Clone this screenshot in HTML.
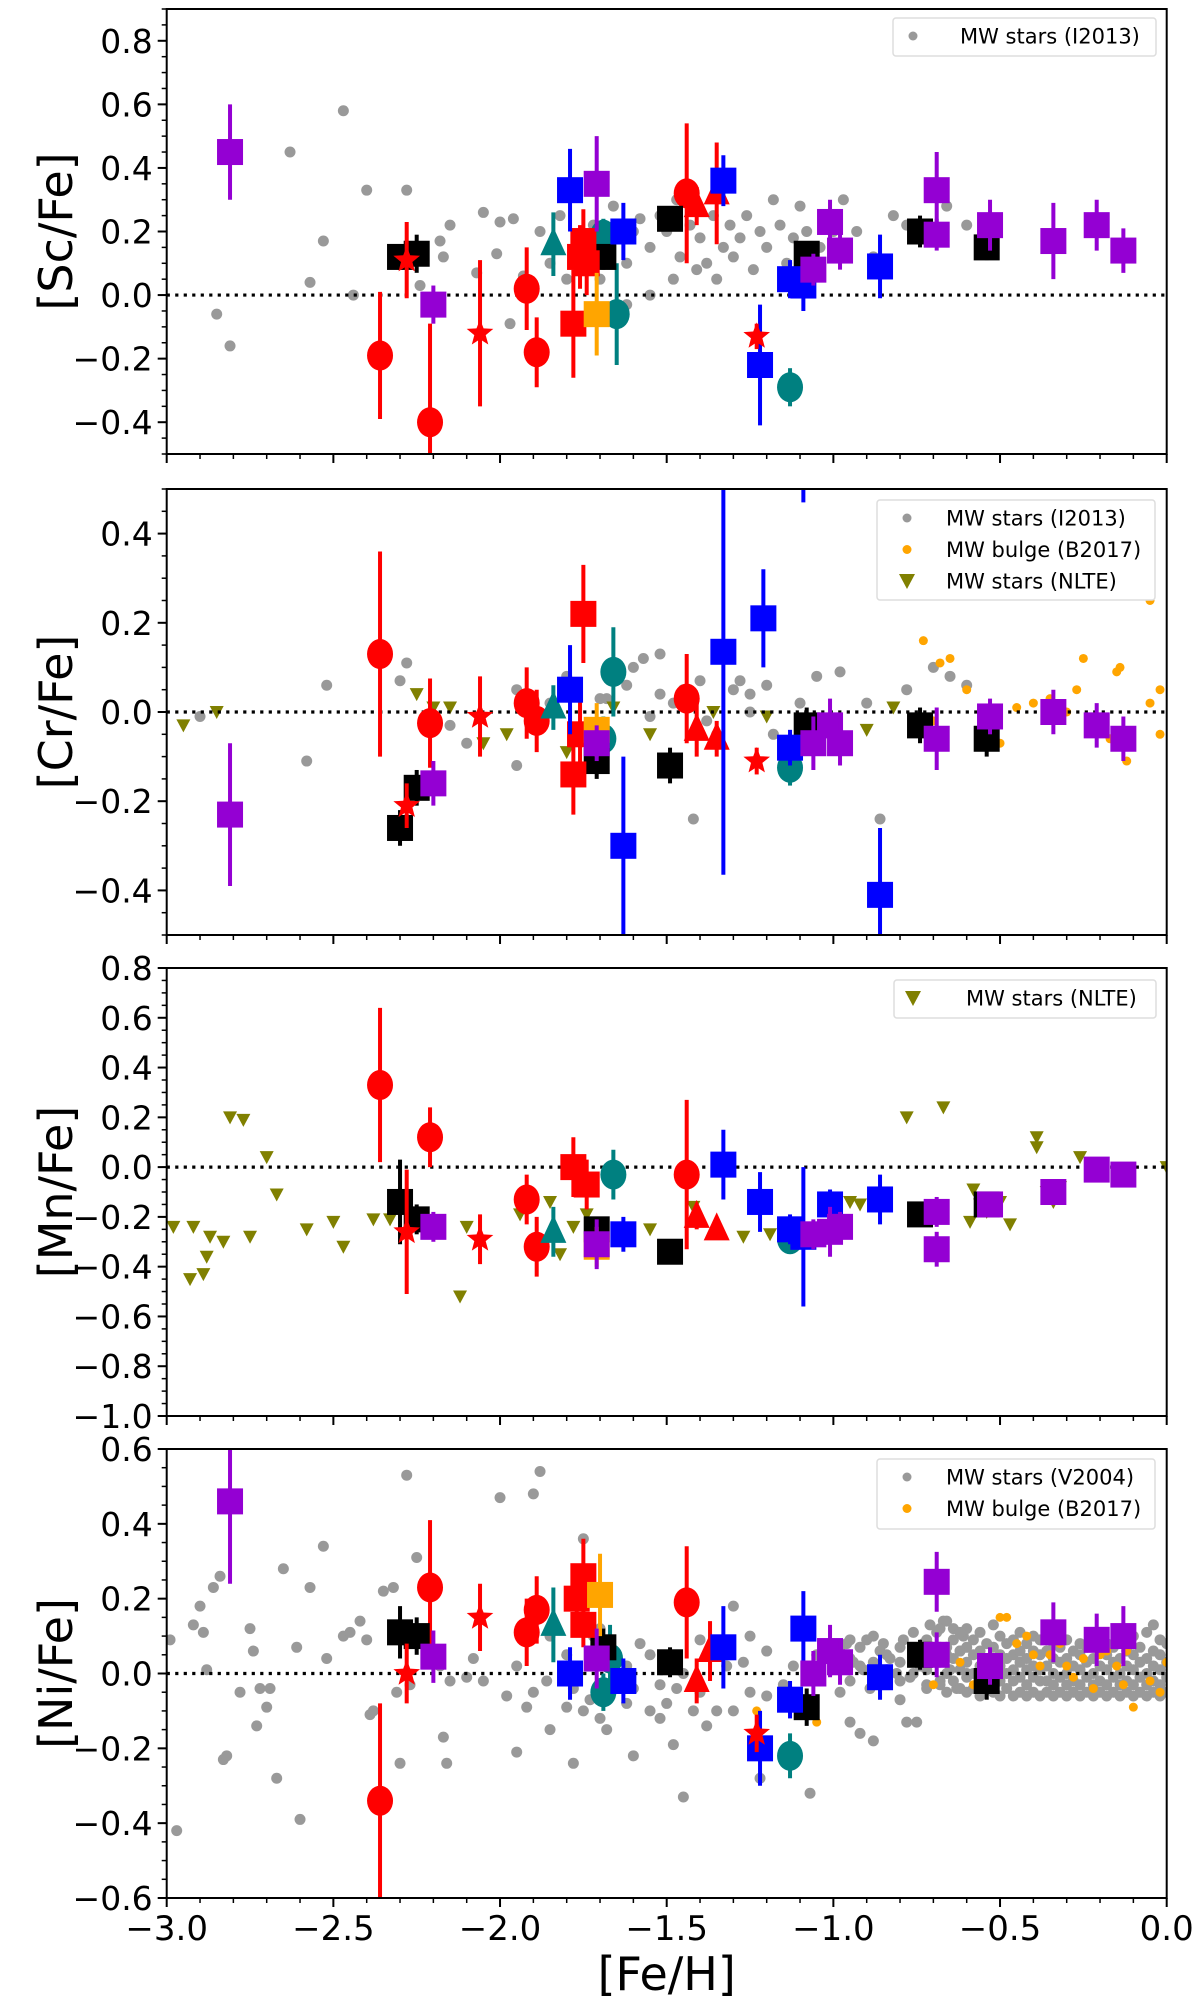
<!DOCTYPE html>
<html><head><meta charset="utf-8">
<style>
html,body{margin:0;padding:0;background:#fff;}
svg{display:block;font-family:"DejaVu Sans","Liberation Sans",sans-serif;}
</style></head>
<body>
<svg id="fig" width="1200" height="2005" viewBox="0 0 1200 2005" xmlns="http://www.w3.org/2000/svg"></svg>
<script>
// ---------- data ----------
const xTicks = [-3.0,-2.5,-2.0,-1.5,-1.0,-0.5,0.0];
const xTickLabels = ["\u22123.0","\u22122.5","\u22122.0","\u22121.5","\u22121.0","\u22120.5","0.0"];
const scTicks = [-0.4,-0.2,0.0,0.2,0.4,0.6,0.8];
const crTicks = [-0.4,-0.2,0.0,0.2,0.4];
const mnTicks = [-1.0,-0.8,-0.6,-0.4,-0.2,0.0,0.2,0.4,0.6,0.8];
const niTicks = [-0.6,-0.4,-0.2,0.0,0.2,0.4,0.6];

// [FeH, value, err]
const scPurple = [[-2.81,0.45,0.15],[-2.20,-0.03,0.06],[-1.71,0.35,0.15],[-1.06,0.08,0.05],[-1.01,0.23,0.07],[-0.98,0.14,0.06],[-0.69,0.33,0.12],[-0.69,0.19,0.05],[-0.53,0.22,0.08],[-0.34,0.17,0.12],[-0.21,0.22,0.08],[-0.13,0.14,0.07]];
const scBlue = [[-1.79,0.33,0.13],[-1.63,0.20,0.09],[-1.33,0.36,0.08],[-1.22,-0.22,0.19],[-1.13,0.05,0.06],[-1.09,0.03,0.08],[-0.86,0.09,0.1]];
const scBlack = [[-2.30,0.12,0.04],[-2.25,0.13,0.06],[-1.69,0.12,0.04],[-1.49,0.24,0.03],[-1.08,0.13,0.03],[-0.74,0.20,0.05],[-0.54,0.15,0.04]];
const scRedSq = [[-1.78,-0.09,0.17],[-1.75,0.17,0.1],[-1.76,0.12,0.1],[-1.74,0.10,0.1]];
const scRedCirc = [[-2.36,-0.19,0.2],[-2.21,-0.40,0.31],[-1.92,0.02,0.13],[-1.89,-0.18,0.11],[-1.44,0.32,0.22]];
const scRedStar = [[-2.28,0.11,0.12],[-2.06,-0.12,0.23],[-1.23,-0.13,0.04]];
const scRedTri = [[-1.41,0.28,0.06],[-1.35,0.32,0.16]];
const scTealCirc = [[-1.69,0.19,0.05],[-1.65,-0.06,0.16],[-1.13,-0.29,0.06]];
const scTealTri = [[-1.84,0.16,0.1]];
const scOrange = [[-1.71,-0.06,0.13]];
const scGray = [[-2.85,-0.06],[-2.81,-0.16],[-2.63,0.45],[-2.47,0.58],[-2.57,0.04],[-2.53,0.17],[-2.44,0.0],[-2.40,0.33],[-2.28,0.33],[-2.24,0.03],[-2.17,0.12],[-2.18,0.17],[-2.15,0.22],[-2.05,0.26],[-2.07,0.07],[-2.0,0.23],[-2.01,0.13],[-1.97,-0.09],[-1.96,0.24],[-1.93,0.06],[-1.88,0.20],[-1.85,0.10],[-1.82,0.25],[-1.80,0.05],[-1.72,0.22],[-1.68,0.18],[-1.66,0.28],[-1.62,0.10],[-1.60,0.20],[-1.58,0.24],[-1.55,0.15],[-1.52,0.25],[-1.50,0.20],[-1.47,0.30],[-1.46,0.12],[-1.43,0.22],[-1.41,0.08],[-1.40,0.18],[-1.38,0.10],[-1.36,0.25],[-1.35,0.05],[-1.33,0.15],[-1.31,0.22],[-1.30,0.12],[-1.28,0.18],[-1.26,0.25],[-1.24,0.08],[-1.22,0.20],[-1.20,0.15],[-1.18,0.30],[-1.16,0.22],[-1.14,0.10],[-1.12,0.18],[-1.10,0.28],[-1.08,0.20],[-1.04,0.15],[-1.02,0.25],[-1.0,0.20],[-0.97,0.30],[-0.93,0.20],[-0.88,0.12],[-0.82,0.25],[-0.78,0.22],[-0.72,0.22],[-0.66,0.28],[-0.60,0.22],[-0.55,0.20],[-1.62,-0.03],[-1.55,0.0],[-1.48,0.05],[-1.70,0.05]];

const crPurple = [[-2.81,-0.23,0.16],[-2.20,-0.16,0.05],[-1.71,-0.07,0.04],[-1.06,-0.07,0.06],[-1.01,-0.03,0.06],[-0.98,-0.07,0.05],[-0.69,-0.06,0.07],[-0.53,-0.01,0.04],[-0.34,0.0,0.05],[-0.21,-0.03,0.05],[-0.13,-0.06,0.05]];
const crBlue = [[-1.79,0.05,0.1],[-1.63,-0.30,0.2],[-1.33,0.135,0.5],[-1.21,0.21,0.11],[-1.13,-0.08,0.04],[-0.86,-0.41,0.15],[-1.09,0.62,0.15]];
const crBlack = [[-2.30,-0.26,0.04],[-2.25,-0.17,0.04],[-1.71,-0.11,0.04],[-1.49,-0.12,0.04],[-1.08,-0.03,0.04],[-0.74,-0.03,0.04],[-0.54,-0.06,0.04]];
const crRedSq = [[-1.78,-0.14,0.09],[-1.75,0.22,0.11],[-1.76,-0.05,0.09]];
const crRedCirc = [[-2.36,0.13,0.23],[-2.21,-0.025,0.1],[-1.92,0.02,0.08],[-1.89,-0.02,0.07],[-1.44,0.03,0.1]];
const crRedStar = [[-2.28,-0.21,0.05],[-2.06,-0.01,0.09],[-1.23,-0.11,0.03]];
const crRedTri = [[-1.41,-0.04,0.06],[-1.35,-0.06,0.04]];
const crTealCirc = [[-1.69,-0.06,0.05],[-1.66,0.09,0.1],[-1.13,-0.125,0.04]];
const crTealTri = [[-1.84,0.01,0.05]];
const crOrange = [[-1.71,-0.04,0.06]];
const crGray = [[-2.90,-0.01],[-2.58,-0.11],[-2.52,0.06],[-2.28,0.11],[-2.30,0.07],[-2.15,-0.03],[-2.10,-0.07],[-1.95,-0.12],[-1.80,0.08],[-1.70,0.03],[-1.62,0.06],[-1.60,0.10],[-1.52,0.04],[-1.48,0.02],[-1.42,-0.24],[-1.38,-0.02],[-1.30,0.05],[-1.25,0.0],[-1.18,-0.05],[-1.10,0.02],[-1.05,0.08],[-0.98,0.09],[-0.90,0.02],[-0.86,-0.24],[-0.78,0.05],[-0.70,0.10],[-0.65,0.08],[-0.60,0.06],[-1.68,0.03],[-1.55,-0.01],[-1.45,0.05],[-1.35,-0.05],[-1.25,0.04],[-1.95,0.05],[-1.85,0.02],[-1.57,0.12],[-1.52,0.13],[-1.40,0.07],[-1.28,0.07],[-1.20,0.06]];
const crBulge = [[-0.73,0.16],[-0.68,0.11],[-0.65,0.12],[-0.60,0.05],[-0.55,-0.03],[-0.45,0.01],[-0.40,0.02],[-0.30,0.0],[-0.27,0.05],[-0.25,0.12],[-0.20,-0.02],[-0.15,0.09],[-0.14,0.10],[-0.12,-0.11],[-0.05,0.25],[-0.05,0.02],[-0.02,0.05],[-0.02,-0.05],[-0.35,0.03],[-0.50,-0.07],[-0.70,-0.02],[-0.17,-0.06],[-1.35,-0.05]];
const crNlte = [[-2.95,-0.03],[-2.85,0.0],[-2.25,0.04],[-2.20,0.01],[-2.15,0.01],[-2.05,-0.07],[-1.98,-0.05],[-1.88,-0.03],[-1.80,-0.09],[-1.66,0.01],[-1.55,-0.05],[-1.36,0.0],[-0.82,0.01],[-0.75,-0.02],[-0.90,-0.04],[-1.20,-0.01]];

const mnPurple = [[-2.20,-0.24,0.06],[-1.71,-0.31,0.1],[-1.06,-0.27,0.06],[-1.01,-0.26,0.1],[-0.98,-0.24,0.06],[-0.69,-0.18,0.06],[-0.69,-0.33,0.07],[-0.53,-0.15,0.05],[-0.34,-0.10,0.05],[-0.21,-0.01,0.04],[-0.13,-0.03,0.04]];
const mnBlue = [[-1.63,-0.27,0.07],[-1.33,0.01,0.14],[-1.22,-0.14,0.12],[-1.13,-0.25,0.06],[-1.09,-0.28,0.28],[-1.01,-0.15,0.06],[-0.86,-0.13,0.1]];
const mnBlack = [[-2.30,-0.14,0.17],[-2.25,-0.21,0.06],[-1.71,-0.25,0.05],[-1.49,-0.34,0.04],[-0.74,-0.19,0.05],[-0.54,-0.15,0.04]];
const mnRedSq = [[-1.78,0.0,0.12],[-1.74,-0.07,0.1]];
const mnRedCirc = [[-2.36,0.33,0.31],[-2.21,0.12,0.12],[-1.92,-0.13,0.1],[-1.89,-0.32,0.12],[-1.44,-0.03,0.3]];
const mnRedStar = [[-2.28,-0.26,0.25],[-2.06,-0.29,0.1]];
const mnRedTri = [[-1.41,-0.20,0.05],[-1.35,-0.25,0.04]];
const mnTealCirc = [[-1.66,-0.03,0.1],[-1.13,-0.29,0.04]];
const mnTealTri = [[-1.84,-0.26,0.1]];
const mnOrange = [[-1.71,-0.32,0.08]];
const mnNlte = [[-2.98,-0.24],[-2.92,-0.24],[-2.93,-0.45],[-2.89,-0.43],[-2.88,-0.36],[-2.87,-0.28],[-2.83,-0.30],[-2.81,0.20],[-2.77,0.19],[-2.75,-0.28],[-2.70,0.04],[-2.67,-0.11],[-2.58,-0.25],[-2.50,-0.22],[-2.47,-0.32],[-2.38,-0.21],[-2.33,-0.21],[-2.12,-0.52],[-2.10,-0.24],[-1.94,-0.19],[-1.92,-0.16],[-1.85,-0.14],[-1.82,-0.35],[-1.78,-0.24],[-1.74,-0.19],[-1.55,-0.25],[-1.42,-0.16],[-1.27,-0.28],[-1.19,-0.27],[-1.10,-0.25],[-0.95,-0.14],[-0.92,-0.15],[-0.78,0.20],[-0.67,0.24],[-0.59,-0.22],[-0.58,-0.09],[-0.56,-0.15],[-0.54,-0.18],[-0.50,-0.14],[-0.47,-0.23],[-0.39,0.12],[-0.39,0.08],[-0.36,-0.10],[-0.34,-0.14],[-0.32,-0.08],[-0.26,0.04],[0.0,0.0]];

const niPurple = [[-2.81,0.46,0.22],[-2.20,0.045,0.07],[-1.71,0.04,0.08],[-1.06,0.0,0.06],[-1.01,0.06,0.07],[-0.98,0.03,0.06],[-0.69,0.245,0.08],[-0.69,0.05,0.06],[-0.53,0.02,0.05],[-0.34,0.11,0.08],[-0.21,0.09,0.07],[-0.13,0.10,0.08]];
const niBlue = [[-1.79,0.0,0.07],[-1.63,-0.02,0.06],[-1.33,0.07,0.11],[-1.22,-0.20,0.1],[-1.13,-0.07,0.05],[-1.09,0.12,0.1],[-0.86,-0.01,0.06]];
const niBlack = [[-2.30,0.11,0.07],[-2.25,0.10,0.05],[-1.69,0.07,0.05],[-1.49,0.03,0.04],[-1.08,-0.09,0.05],[-0.74,0.05,0.04],[-0.54,-0.02,0.05]];
const niRedSq = [[-1.77,0.20,0.06],[-1.75,0.26,0.1],[-1.75,0.13,0.06]];
const niRedCirc = [[-2.36,-0.34,0.26],[-2.21,0.23,0.18],[-1.92,0.11,0.09],[-1.89,0.17,0.09],[-1.44,0.19,0.15]];
const niRedStar = [[-2.28,0.0,0.08],[-2.06,0.15,0.09],[-1.23,-0.16,0.05]];
const niRedTri = [[-1.41,-0.02,0.06],[-1.37,0.06,0.08]];
const niTealCirc = [[-1.69,-0.05,0.05],[-1.67,0.04,0.09],[-1.13,-0.22,0.06]];
const niTealTri = [[-1.84,0.13,0.1]];
const niOrange = [[-1.70,0.21,0.11]];
const niGray = [[-2.99,0.09],[-2.97,-0.42],[-2.92,0.13],[-2.90,0.18],[-2.89,0.11],[-2.88,0.01],[-2.86,0.23],[-2.84,0.26],[-2.83,-0.23],[-2.82,-0.22],[-2.78,-0.05],[-2.75,0.12],[-2.74,0.06],[-2.73,-0.14],[-2.72,-0.04],[-2.70,-0.09],[-2.69,-0.04],[-2.67,-0.28],[-2.65,0.28],[-2.61,0.07],[-2.60,-0.39],[-2.57,0.23],[-2.52,0.04],[-2.53,0.34],[-2.47,0.10],[-2.45,0.11],[-2.42,0.14],[-2.40,0.09],[-2.39,-0.11],[-2.38,-0.10],[-2.35,0.22],[-2.32,0.23],[-2.31,-0.05],[-2.30,-0.24],[-2.28,0.53],[-2.27,-0.03],[-2.25,0.31],[-2.20,0.06],[-2.18,0.02],[-2.17,-0.17],[-2.16,-0.24],[-2.15,-0.02],[-2.10,-0.01],[-2.08,0.04],[-2.05,-0.02],[-2.00,0.47],[-1.95,0.02],[-1.95,-0.21],[-1.90,0.48],[-1.88,0.54],[-1.85,0.10],[-1.80,-0.09],[-1.78,-0.24],[-1.75,0.36],[-1.72,0.10],[-1.70,-0.12],[-1.65,0.05],[-1.62,-0.08],[-1.60,-0.22],[-1.55,-0.10],[-1.52,-0.12],[-1.48,-0.19],[-1.45,-0.33],[-1.42,-0.10],[-1.40,0.09],[-1.38,-0.14],[-1.35,0.05],[-1.30,-0.10],[-1.27,0.03],[-1.25,-0.05],[-1.22,-0.28],[-1.20,0.06],[-1.15,-0.03],[-1.10,-0.10],[-1.07,-0.32],[-1.05,0.05],[-1.00,0.08],[-0.98,-0.05],[-0.95,-0.13],[-0.92,-0.16],[-0.90,0.09],[-0.88,-0.18],[-0.85,0.08],[-0.80,-0.07],[-0.78,-0.13],[-0.75,-0.13],[-1.90,-0.05],[-1.85,-0.15],[-1.80,0.05],[-1.75,-0.10],[-1.70,0.12],[-1.68,-0.15],[-1.60,-0.04],[-1.55,0.05],[-1.50,-0.08],[-1.45,0.0],[-1.40,-0.05],[-1.35,-0.10],[-1.30,0.18],[-1.25,0.10],[-1.20,-0.06],[-1.15,-0.08],[-1.98,-0.06],[-1.92,-0.09],[-1.86,-0.02],[-1.78,-0.04],[-1.73,-0.07],[-1.62,0.02],[-1.58,0.08],[-1.52,-0.03],[-1.47,-0.04],[-1.32,0.02],[-1.12,0.02],[-1.04,-0.02],[-1.02,0.05],[-0.96,0.08],[-0.94,0.03],[-0.91,0.01],[-0.89,-0.04],[-0.86,0.06],[-0.83,0.04],[-0.81,0.00],[-0.79,0.09],[-0.77,-0.01],[-0.76,0.05],[-0.74,0.02],[-0.73,0.08],[-0.72,-0.03],[-0.71,0.13],[-0.70,0.04],[-0.69,0.11],[-0.68,-0.02],[-0.67,0.14],[-0.66,0.07],[-0.65,0.01],[-0.64,0.12],[-0.63,-0.04],[-0.62,0.06],[-0.61,0.10],[-0.60,0.00]];
// dense V2004 band: [FeH, NiFe values...]
const niBandRows = [
[-0.60,-0.05,-0.01,0.03,0.07,0.12],[-0.58,-0.04,0.00,0.05,0.09],[-0.56,-0.06,-0.02,0.02,0.06,0.11],[-0.54,-0.03,0.01,0.04,0.08],
[-0.52,-0.05,-0.01,0.03,0.07,0.13],[-0.50,-0.06,-0.02,0.02,0.05,0.10],[-0.48,-0.04,0.00,0.04,0.08],[-0.46,-0.06,-0.02,0.01,0.05,0.09],
[-0.44,-0.05,-0.01,0.03,0.06,0.11],[-0.42,-0.06,-0.03,0.01,0.04,0.08],[-0.40,-0.05,-0.01,0.02,0.06,0.10],[-0.38,-0.06,-0.02,0.01,0.05,0.09],
[-0.36,-0.05,-0.02,0.02,0.06],[-0.34,-0.06,-0.03,0.00,0.04,0.08],[-0.32,-0.05,-0.01,0.03,0.07],[-0.30,-0.06,-0.03,0.00,0.04,0.09],
[-0.28,-0.05,-0.02,0.02,0.06],[-0.26,-0.06,-0.03,0.01,0.05,0.08],[-0.24,-0.05,-0.01,0.03,0.07],[-0.22,-0.06,-0.03,0.00,0.04,0.10],
[-0.20,-0.05,-0.02,0.02,0.06],[-0.18,-0.06,-0.03,0.01,0.05,0.08],[-0.16,-0.05,-0.01,0.03,0.07],[-0.14,-0.06,-0.03,0.00,0.04,0.09],
[-0.12,-0.05,-0.02,0.02,0.06],[-0.10,-0.06,-0.03,0.01,0.05,0.10],[-0.08,-0.05,-0.01,0.03,0.07],[-0.06,-0.06,-0.03,0.00,0.04,0.11],
[-0.04,-0.05,-0.02,0.02,0.06,0.13],[-0.02,-0.06,-0.03,0.01,0.05,0.09],[0.00,-0.05,-0.01,0.03,0.08],
[-0.98,0.01,0.06],[-0.95,-0.02,0.04,0.09],[-0.92,0.02,0.07],[-0.88,-0.03,0.03,0.10],[-0.84,0.01,0.05],[-0.80,-0.02,0.03,0.07],
[-0.76,0.00,0.06,0.11],[-0.72,-0.04,0.01,0.09],[-0.68,-0.03,0.03,0.07,0.12],[-0.66,-0.05,0.00,0.05,0.14],[-0.64,-0.02,0.04,0.09],[-0.62,-0.04,0.01,0.06,0.11]];
const niBulge = [[-1.23,-0.10],[-1.05,-0.13],[-0.70,-0.03],[-0.62,0.03],[-0.58,-0.03],[-0.50,0.15],[-0.48,0.15],[-0.45,0.08],[-0.42,0.10],[-0.40,0.05],[-0.38,0.02],[-0.35,0.05],[-0.30,0.02],[-0.28,-0.01],[-0.25,0.04],[-0.20,0.05],[-0.18,0.06],[-0.15,0.02],[-0.13,-0.03],[-0.12,0.06],[-0.10,-0.09],[-0.05,-0.02],[-0.02,-0.05],[0.0,0.03],[-0.22,-0.04],[-0.32,0.08],[-0.55,0.01]];

// ---------- layout ----------
const NS = "http://www.w3.org/2000/svg";
const svg = document.getElementById('fig');
const XL = 166.7, XR = 1166.7;
const xMin = -3, xMax = 0;
function sx(v){ return XL + (v - xMin) / (xMax - xMin) * (XR - XL); }
function mk(tag, attrs, parent){
  const e = document.createElementNS(NS, tag);
  for (const k in attrs) e.setAttribute(k, attrs[k]);
  (parent || svg).appendChild(e);
  return e;
}
const C = {purple:"#9400d3", blue:"#0000ff", black:"#000000", red:"#ff0000", teal:"#008080", orange:"#ffa500", gray:"#999999", olive:"#808000"};

const niGrayAll = niGray.slice();
niBandRows.forEach(r => { for (let i = 1; i < r.length; i++) niGrayAll.push([r[0], r[i]]); });

function drawPanel(p){
  const g = mk('g', {});
  
  
  const sy = v => p.bot - (v - p.ymin) / (p.ymax - p.ymin) * (p.bot - p.top);
  const clipId = 'clip-' + p.name;
  const cp = mk('clipPath', {id: clipId}, g);
  mk('rect', {x: XL, y: p.top, width: XR - XL, height: p.bot - p.top}, cp);
  const plot = mk('g', {'clip-path': 'url(#' + clipId + ')'}, g);

  function dots(arr, color, r, nm){
    arr.forEach(d => {
      const c = mk('circle', {cx: sx(d[0]), cy: sy(d[1]), r: r, fill: color}, plot);
      
      
    });
  }
  function tdown(arr, nm){
    arr.forEach(d => {
      const x = sx(d[0]), y = sy(d[1]);
      const t = mk('polygon', {points: (x-7)+','+(y-6)+' '+(x+7)+','+(y-6)+' '+x+','+(y+7), fill: C.olive}, plot);
      
      
    });
  }
  if (p.gray) dots(p.gray, C.gray, 5.5, 'mw-star-point');
  if (p.bulge) dots(p.bulge, C.orange, 4.5, 'mw-bulge-point');
  if (p.nlte) tdown(p.nlte, 'mw-nlte-point');

  const zl = mk('line', {x1: XL, x2: XR, y1: sy(0), y2: sy(0), stroke: '#000', 'stroke-width': 3.2, 'stroke-dasharray': '3.2,5.3'}, plot);
  
  

  function series(arr, color, shape, nm){
    arr.forEach(d => {
      const x = sx(d[0]), y = sy(d[1]);
      const eb = mk('line', {x1: x, x2: x, y1: sy(d[1] - d[2]), y2: sy(d[1] + d[2]), stroke: color, 'stroke-width': 4}, plot);
      
      
      let m;
      if (shape === 'sq') m = mk('rect', {x: x-13, y: y-13, width: 26, height: 26, fill: color}, plot);
      else if (shape === 'circ') m = mk('ellipse', {cx: x, cy: y, rx: 13, ry: 15, fill: color}, plot);
      else if (shape === 'tri') m = mk('polygon', {points: x+','+(y-17)+' '+(x-13)+','+(y+11)+' '+(x+13)+','+(y+11), fill: color}, plot);
      else {
        let pts = [];
        for (let i = 0; i < 10; i++){
          const a = -Math.PI/2 + i*Math.PI/5, r = i%2 ? 6 : 14;
          pts.push((x + r*Math.cos(a)).toFixed(1) + ',' + (y + r*Math.sin(a)).toFixed(1));
        }
        m = mk('polygon', {points: pts.join(' '), fill: color}, plot);
      }
      
      
    });
  }
  const S = p.series;
  series(S.redCirc, C.red, 'circ', 'red-circle-point');
  series(S.tealCirc, C.teal, 'circ', 'teal-circle-point');
  series(S.tealTri, C.teal, 'tri', 'teal-triangle-point');
  series(S.redTri, C.red, 'tri', 'red-triangle-point');
  series(S.black, C.black, 'sq', 'black-square-point');
  series(S.redSq, C.red, 'sq', 'red-square-point');
  series(S.orange, C.orange, 'sq', 'orange-square-point');
  series(S.blue, C.blue, 'sq', 'blue-square-point');
  series(S.purple, C.purple, 'sq', 'purple-square-point');
  series(S.redStar, C.red, 'star', 'red-star-point');

  const fr = mk('rect', {x: XL, y: p.top, width: XR - XL, height: p.bot - p.top, fill: 'none', stroke: '#000', 'stroke-width': 2}, g);
  
  

  const ay = mk('g', {}, g);
  
  
  for (let v = Math.ceil(p.ymin/0.05 - 1e-6)*0.05; v <= p.ymax + 1e-6; v += 0.05){
    mk('line', {x1: XL-5, x2: XL, y1: sy(v), y2: sy(v), stroke: '#000', 'stroke-width': 1.5}, ay);
  }
  p.ticks.forEach(v => {
    mk('line', {x1: XL-9, x2: XL, y1: sy(v), y2: sy(v), stroke: '#000', 'stroke-width': 2}, ay);
    const t = mk('text', {x: XL-14, y: sy(v)+12, 'text-anchor': 'end', 'font-size': 33}, ay);
    t.textContent = (v < 0 ? '\u2212' : '') + Math.abs(v).toFixed(1);
    
    
  });
  const yc = (p.top + p.bot)/2;
  const yt = mk('text', {x: 0, y: 0, transform: 'translate(72,' + yc + ') rotate(-90)', 'text-anchor': 'middle', 'font-size': 46}, g);
  yt.textContent = p.label;
  
  

  const ax = mk('g', {}, g);
  
  
  for (let i = 0; i <= 30; i++){
    const v = -3 + i*0.1;
    const major = i % 5 === 0;
    mk('line', {x1: sx(v), x2: sx(v), y1: p.bot, y2: p.bot + (major ? 9 : 5), stroke: '#000', 'stroke-width': major ? 2 : 1.5}, ax);
  }
  if (p.xlabels){
    xTicks.forEach((v, i) => {
      const t = mk('text', {x: sx(v), y: p.bot + 42, 'text-anchor': 'middle', 'font-size': 34}, ax);
      t.textContent = xTickLabels[i];
      
      
    });
  }

  const L = p.legend;
  const lg = mk('g', {}, g);
  
  
  mk('rect', {x: L.x, y: L.y, width: L.w, height: L.h, rx: 3, fill: '#fff', stroke: '#ddd', 'stroke-width': 1.5}, lg);
  L.items.forEach((it, i) => {
    const yy = L.y + 18 + i*31.5;
    const e = mk('g', {}, lg);
    
    
    if (it.k === 'tri') mk('polygon', {points: (L.mx-8)+','+(yy-7)+' '+(L.mx+8)+','+(yy-7)+' '+L.mx+','+(yy+8), fill: C.olive}, e);
    else mk('circle', {cx: L.mx, cy: yy, r: 4.5, fill: it.k === 'bulge' ? C.orange : C.gray}, e);
    const t = mk('text', {x: L.tx, y: yy + 7.5, 'font-size': 21}, e);
    t.textContent = it.t;
  });
}

drawPanel({name:'sc', top:9, bot:454, ymin:-0.5, ymax:0.9, ticks:scTicks, label:'[Sc/Fe]',
  gray: scGray,
  series:{purple:scPurple, blue:scBlue, black:scBlack, redSq:scRedSq, redCirc:scRedCirc, redStar:scRedStar, redTri:scRedTri, tealCirc:scTealCirc, tealTri:scTealTri, orange:scOrange},
  legend:{x:893, y:18, w:263, h:38, mx:913, tx:960, items:[{k:'gray', t:'MW stars (I2013)'}]}});
drawPanel({name:'cr', top:489, bot:935, ymin:-0.5, ymax:0.5, ticks:crTicks, label:'[Cr/Fe]',
  gray: crGray, bulge: crBulge, nlte: crNlte,
  series:{purple:crPurple, blue:crBlue, black:crBlack, redSq:crRedSq, redCirc:crRedCirc, redStar:crRedStar, redTri:crRedTri, tealCirc:crTealCirc, tealTri:crTealTri, orange:crOrange},
  legend:{x:877, y:500, w:278, h:100, mx:907, tx:946, items:[{k:'gray', t:'MW stars (I2013)'},{k:'bulge', t:'MW bulge (B2017)'},{k:'tri', t:'MW stars (NLTE)'}]}});
drawPanel({name:'mn', top:968, bot:1416, ymin:-1.0, ymax:0.8, ticks:mnTicks, label:'[Mn/Fe]',
  nlte: mnNlte,
  series:{purple:mnPurple, blue:mnBlue, black:mnBlack, redSq:mnRedSq, redCirc:mnRedCirc, redStar:mnRedStar, redTri:mnRedTri, tealCirc:mnTealCirc, tealTri:mnTealTri, orange:mnOrange},
  legend:{x:894, y:980, w:262, h:38, mx:913, tx:966, items:[{k:'tri', t:'MW stars (NLTE)'}]}});
drawPanel({name:'ni', top:1449, bot:1898, ymin:-0.6, ymax:0.6, ticks:niTicks, label:'[Ni/Fe]', xlabels:true,
  gray: niGrayAll, bulge: niBulge,
  series:{purple:niPurple, blue:niBlue, black:niBlack, redSq:niRedSq, redCirc:niRedCirc, redStar:niRedStar, redTri:niRedTri, tealCirc:niTealCirc, tealTri:niTealTri, orange:niOrange},
  legend:{x:877, y:1459, w:278, h:70, mx:907, tx:946, items:[{k:'gray', t:'MW stars (V2004)'},{k:'bulge', t:'MW bulge (B2017)'}]}});

const xt = mk('text', {x: (XL+XR)/2, y: 1990, 'text-anchor': 'middle', 'font-size': 46});
xt.textContent = '[Fe/H]';


</script>
</body></html>
